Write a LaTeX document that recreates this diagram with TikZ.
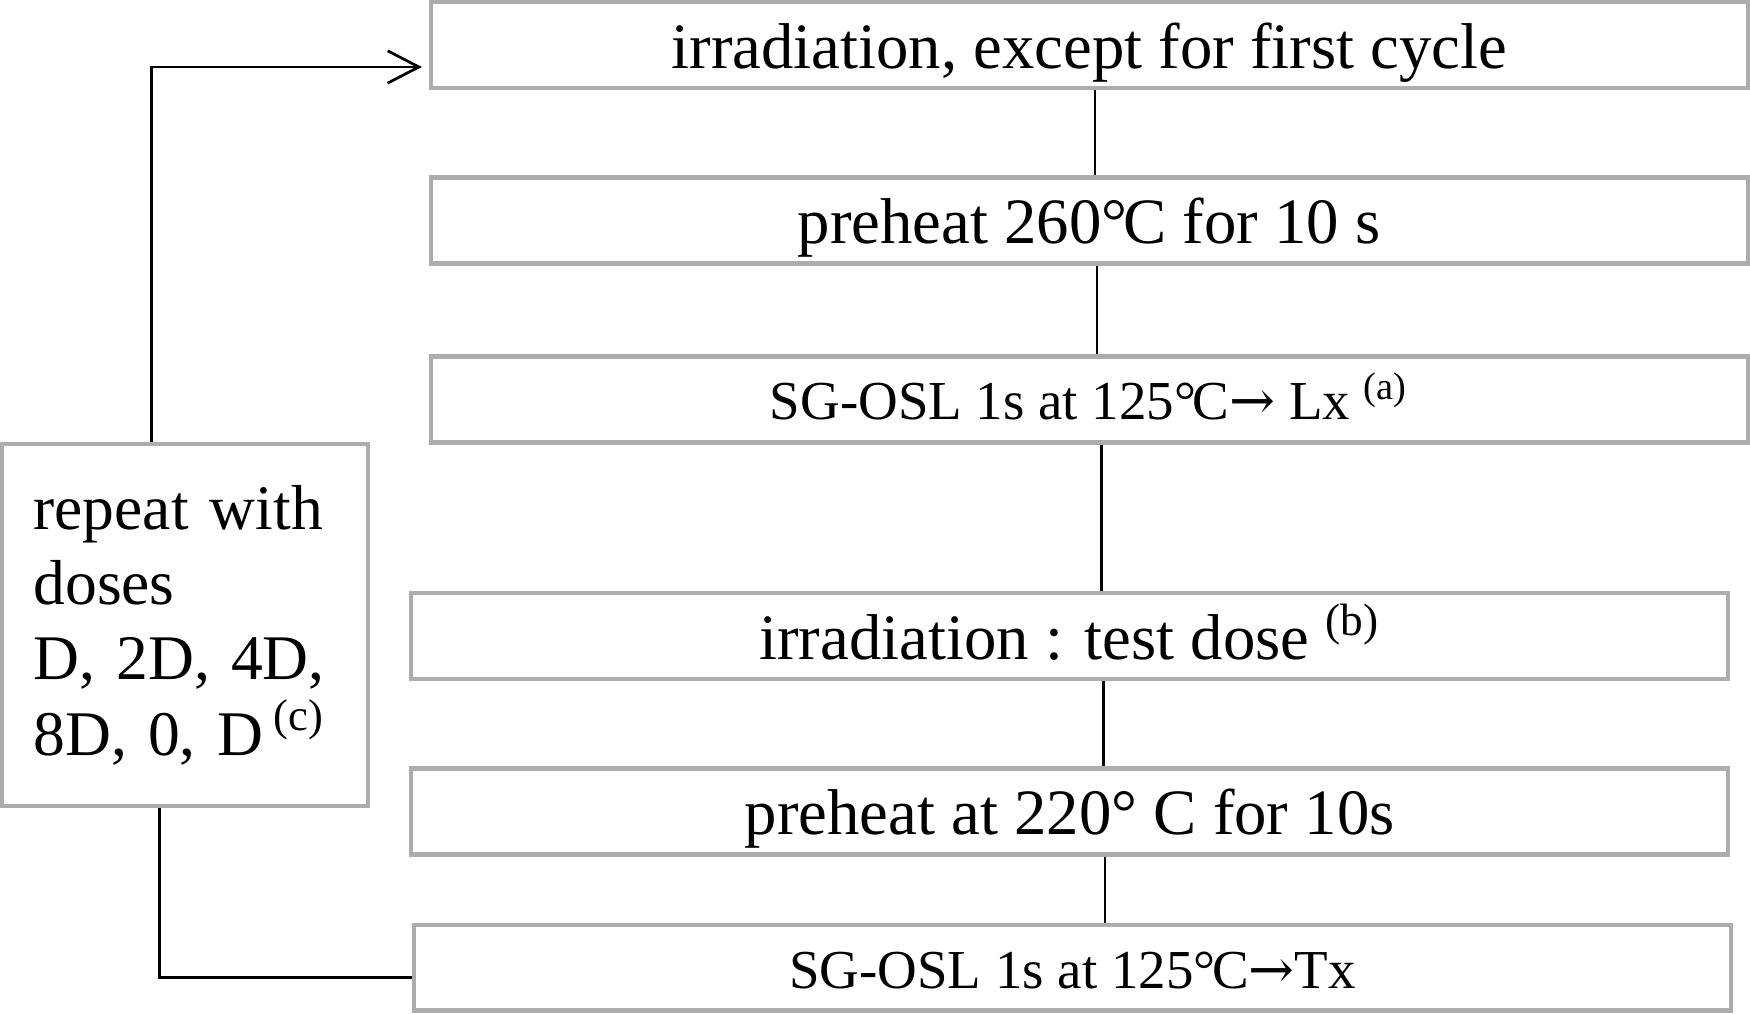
\documentclass[tikz,border=0pt]{standalone}
\usepackage{fontspec}
\setmainfont{Liberation Serif}
\newfontfamily\arrowfont{DejaVu Serif}
\usepackage{tikz}
\usetikzlibrary{arrows.meta}
\definecolor{boxline}{gray}{0.68}
\newcommand{\degc}{\textdegree\kern-0.06em C}
\newcommand{\toarrow}{{\arrowfont →}}

\begin{document}
\begin{tikzpicture}[x=0.1mm, y=-0.1mm,
	stepbox/.style={draw=boxline, line width=1.1pt, inner sep=0pt,
		minimum width=118mm, minimum height=7.7mm, text height=12pt, text depth=0pt,
		font=\fontsize{16.5}{19.5}\selectfont},
	oslbox/.style={stepbox, text height=10.4pt, font=\fontsize{14}{17}\selectfont},
	link/.style={line width=0.7pt}]
				\useasboundingbox (0,0) rectangle (1568,908);

				% Regenerative dose cycle
				\node[stepbox] (irr) at (976, 40.5) {irradiation, except for first cycle};
				\node[stepbox] (ph1) at (976, 197.5) {preheat 260\degc{} for 10 s};
				\node[oslbox]  (lx)  at (976, 358) {SG-OSL 1s at 125\degc\toarrow{} Lx \textsuperscript{(a)}};
				% Test dose cycle
				\node[stepbox] (td)  at (958.5, 570) {irradiation : test dose \textsuperscript{(b)}};
				\node[stepbox] (ph2) at (958.5, 727) {preheat at 220° C for 10s};
				\node[oslbox]  (tx)  at (961, 867) {SG-OSL 1s at 125\degc\toarrow{}Tx};

				% Repeat box
				\node[draw=boxline, line width=1.1pt, minimum width=32.8mm, minimum height=32.4mm,
					inner xsep=2.8mm, text width=27.2mm, align=left,
					font=\fontsize{16.2}{19.2}\selectfont] (rep) at (166, 560)
					{repeat with\\doses\\D, 2D, 4D,\\\mbox{8D, 0, D\,\textsuperscript{(c)}}};

				% Links between steps
				\foreach \a/\b/\x in {irr/ph1/981, ph1/lx/983, lx/td/987, td/ph2/989, ph2/tx/990} {
					\draw[link] (\a.south -| \x,0) -- (\b.north -| \x,0);
				}

				% Loop back
				\coordinate (back) at (378, 60);
				\draw[link, -{Straight Barb[length=2.8mm, width=2.9mm]}] (rep.north -| 136,0) |- (back);
				\draw[link] (rep.south -| 143,0) |- (tx.west |- 0,876);

\end{tikzpicture}
\end{document}
